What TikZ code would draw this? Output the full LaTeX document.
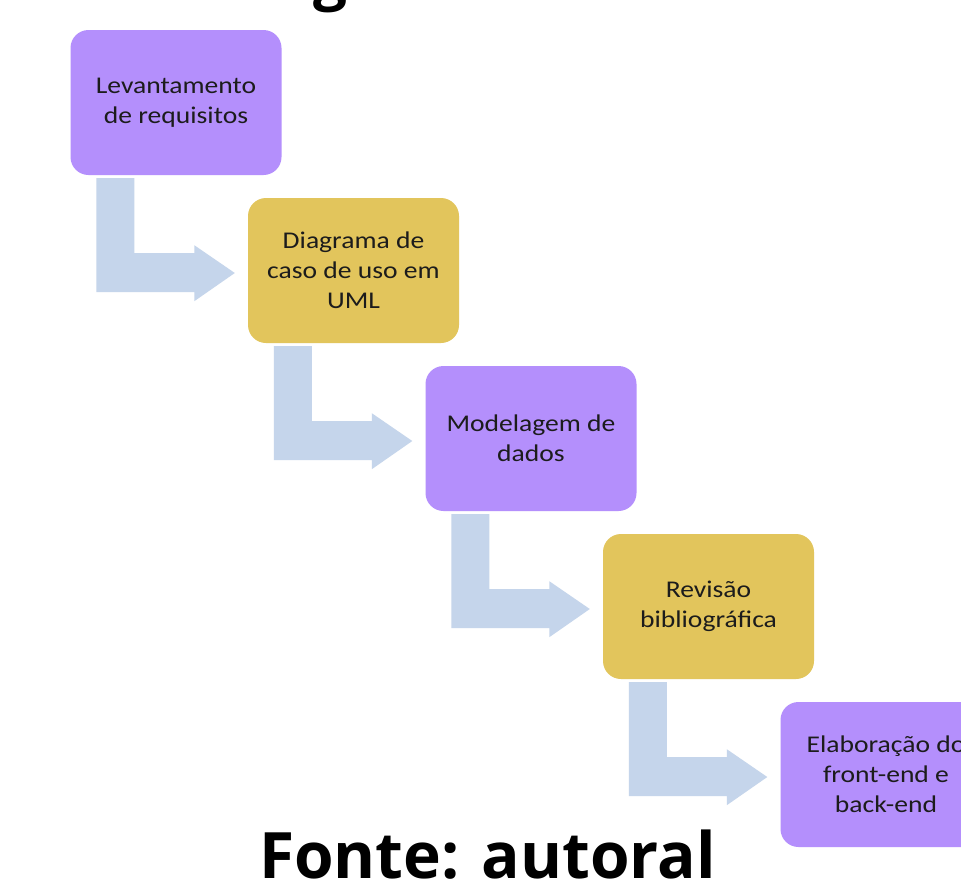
\documentclass[tikz,border=0pt]{standalone}
\usepackage{fontspec}
\setmainfont{Carlito}
\newfontfamily\boxfont[FakeStretch=1.15]{Carlito}
\newfontfamily\capfont{Open Sans}
\usetikzlibrary{calc}
\definecolor{lilac}{HTML}{B48FFC}
\definecolor{gold}{HTML}{E2C55C}
\definecolor{flow}{HTML}{C5D5EB}
\definecolor{ink}{HTML}{1C1C1C}
\begin{document}
\begin{tikzpicture}[x=1pt,y=-1pt,
  stepbox/.style={rounded corners=18pt, minimum width=211pt, minimum height=145pt,
    inner sep=0pt, align=center, text=ink, font=\boxfont\fontsize{24}{30}\selectfont},
  purplebox/.style={stepbox, fill=lilac},
  yellowbox/.style={stepbox, fill=gold},
  bentarrow/.style={fill=flow, draw=none}]
\useasboundingbox (0,0) rectangle (961,879);
\clip (0,0) rectangle (961,879);
\fill[white] (0,0) rectangle (961,879);
\node[purplebox] (b1) at (176,102.5) {Levantamento\\de requisitos};
\node[yellowbox] (b2) at (353.5,270.5) {Diagrama de\\caso de uso em\\UML};
\node[purplebox] (b3) at (531,438.5) {Modelagem de\\dados};
\node[yellowbox] (b4) at (708.5,606.5) {Revisão\\bibliográfica};
\node[purplebox] (b5) at (886,774.5) {Elaboração do\\front-end e\\back-end};
\foreach \a/\b in {b1/b2,b2/b3,b3/b4,b4/b5}{
  \path[bentarrow] ($(\a.south west)+(26,3)$) -- ($(\a.south west)+(64,3)$)
    -- ($(\a.south west)+(64,78)$) -- ($(\a.south west)+(124,78)$)
    -- ($(\a.south west)+(124,70)$) -- ($(\b.west)+(-13,2.5)$)
    -- ($(\a.south west)+(124,126)$) -- ($(\a.south west)+(124,117)$)
    -- ($(\a.south west)+(26,117)$) -- cycle;
}
\node[anchor=base, font=\capfont\bfseries\fontsize{64}{70}\selectfont, inner sep=0pt] (fonte) at (487.5,878) {Fonte: autoral};
\node[anchor=base, font=\capfont\bfseries\fontsize{60}{66}\selectfont, inner sep=0pt] (title) at (330,-2) {g};
\end{tikzpicture}
\end{document}
